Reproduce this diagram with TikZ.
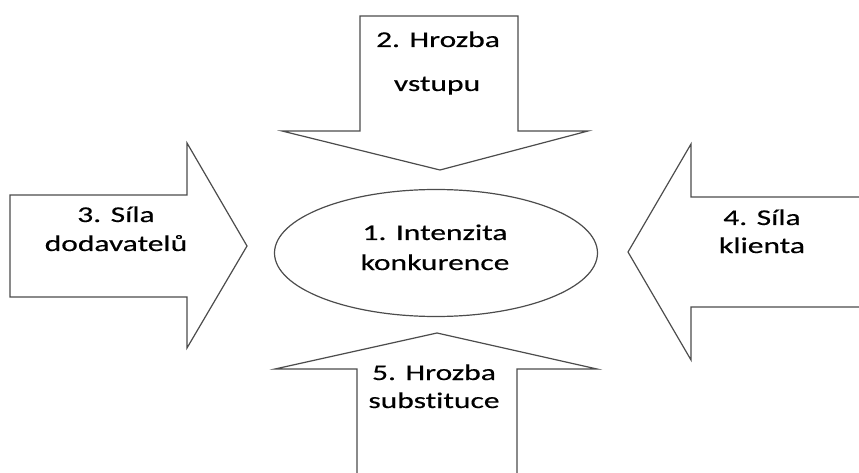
\documentclass[tikz,border=0pt]{standalone}
\usepackage{fontspec}
\setmainfont{Carlito}[FakeStretch=1.4, FakeBold=0.4, Ligatures=NoCommon]
\usepackage{tikz}
\usetikzlibrary{shapes.geometric}

\begin{document}
\begin{tikzpicture}[x=1pt, y=-1pt,
  force/.style={draw=black!70, line width=1.2pt, fill=white, line join=miter},
  lbl/.style={anchor=base, inner sep=0pt, font=\fontsize{22.5}{29}\selectfont}]
% Set the size of the figure
\clip (0,0) rectangle (859,473);

% Arrows of the five forces
\draw[force] (360,16) -- (518,16) -- (518,131) -- (588,131) -- (440,170) -- (282,131) -- (360,131) -- cycle;
\draw[force] (10,195) -- (187,195) -- (187,143) -- (247,246) -- (187,348) -- (187,297) -- (10,297) -- cycle;
\draw[force] (875,197) -- (691,197) -- (691,144) -- (628,252) -- (691,360) -- (691,307) -- (875,307) -- cycle;
\draw[force] (357,490) -- (357,369) -- (275,369) -- (437,333) -- (597,369) -- (517,369) -- (517,490) -- cycle;

% Centre
\node[force, ellipse, minimum width=323pt, minimum height=127pt, inner sep=0pt] (rivalry) at (436,253) {};

% Labels
\node[lbl] (rivalA) at (435,240) {1. Intenzita};
\node[lbl] (rivalB) at (435,270) {konkurence};
\node[lbl] (entryA) at (438,47) {2. Hrozba};
\node[lbl] (entryB) at (437,91) {vstupu};
\node[lbl] (supA) at (116,222) {3. Síla};
\node[lbl] (supB) at (116,251) {dodavatelů};
\node[lbl] (buyA) at (762,225) {4. Síla};
\node[lbl] (buyB) at (762,253) {klienta};
\node[lbl] (subA) at (434,380) {5. Hrozba};
\node[lbl] (subB) at (434,408) {substituce};
\end{tikzpicture}
\end{document}
